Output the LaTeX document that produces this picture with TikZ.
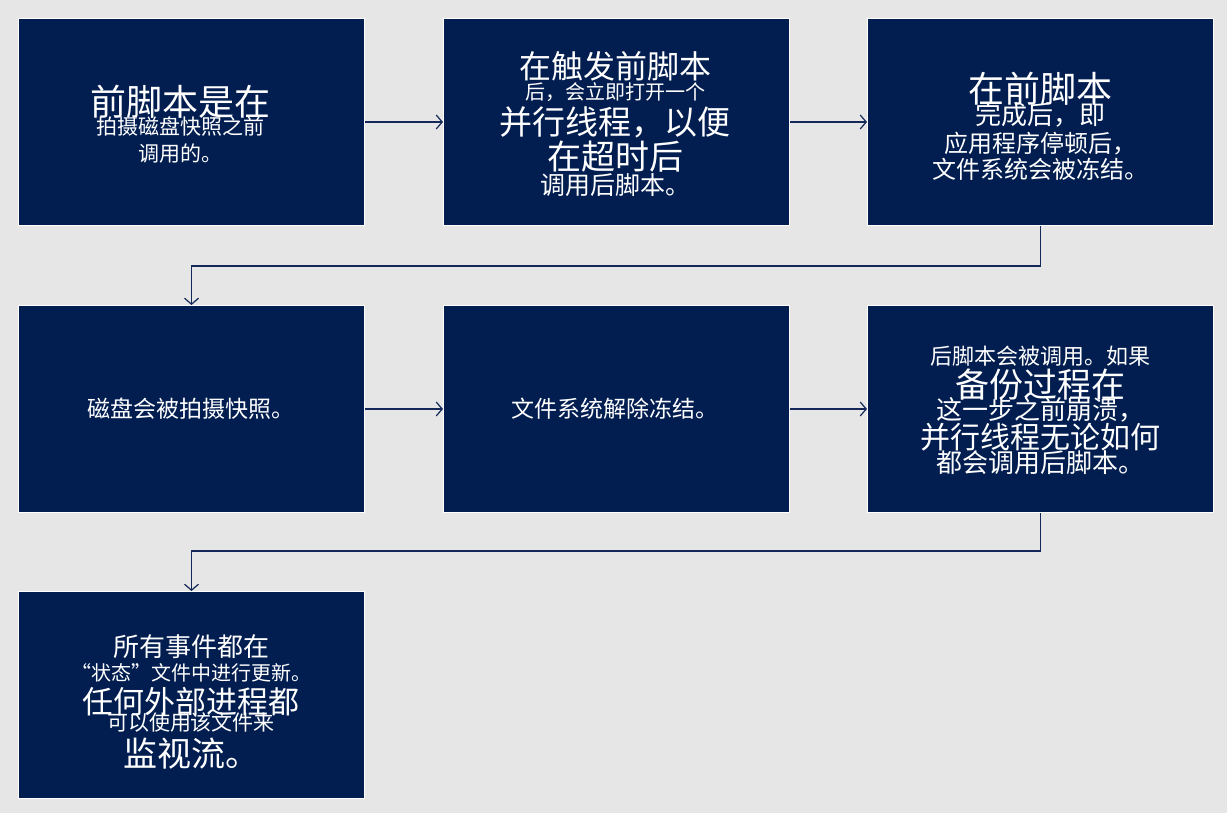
\documentclass[tikz,border=0pt]{standalone}
\usepackage{fontspec}
\usetikzlibrary{arrows.meta}
\newfontfamily\cjk{Noto Sans CJK SC}
\definecolor{bg}{RGB}{230,230,230}
\definecolor{navy}{RGB}{2,30,80}
\definecolor{arr}{RGB}{20,40,90}
\newcommand{\fs}[1]{\fontsize{#1}{#1}\selectfont}
\begin{document}
\begin{tikzpicture}[x=1pt,y=-1pt,
  box/.style={draw=white,line width=1pt,fill=navy,minimum width=346pt,minimum height=207pt,anchor=north west,text=white,align=center,font=\cjk,inner sep=2pt},
  txt/.style={text=white,align=center,font=\cjk},
  conn/.style={draw=arr,line width=1.2pt,-{Straight Barb[length=6pt,width=14pt]}}]
\fill[bg] (0,0) rectangle (1227,813);
\useasboundingbox (0,0) rectangle (1227,813);
\node[box] (b1) at (18,18) {};
\node[box] (b2) at (443,18) {};
\node[box] (b3) at (867,18) {};
\node[box] (b4) at (18,305) {};
\node[box] (b5) at (443,305) {};
\node[box] (b6) at (867,305) {};
\node[box] (b7) at (18,591) {};
\node[txt] at (180,124) {\fs{36}前脚本是在\\[-2pt]\fs{21}拍摄磁盘快照之前\\[6pt]\fs{21}调用的。};
\node[txt] at (615,124) {\fs{32}在触发前脚本\\[0pt]\fs{20}后，会立即打开一个\\[4pt]\fs{33}并行线程，以便\\[2pt]\fs{34}在超时后\\[0pt]\fs{25}调用后脚本。};
\node[txt] at (1040,126) {\fs{36}在前脚本\\[-4pt]\fs{26}完成后，即\\[4pt]\fs{24}应用程序停顿后，\\[2pt]\fs{24}文件系统会被冻结。};
\node[txt] at (191,409) {\fs{23}磁盘会被拍摄快照。};
\node[txt] at (615,409) {\fs{23}文件系统解除冻结。};
\node[txt] at (1040,410) {\fs{22}后脚本会被调用。如果\\[2pt]\fs{34}备份过程在\\[-4pt]\fs{26}这一步之前崩溃，\\[0pt]\fs{30}并行线程无论如何\\[-2pt]\fs{26}都会调用后脚本。};
\node[txt] at (191,702) {\fs{26}所有事件都在\\[4pt]\fs{20}“状态”文件中进行更新。\\[4pt]\fs{31}任何外部进程都\\[-4pt]\fs{21}可以使用该文件来\\[4pt]\fs{34}监视流。};
\draw[conn] (b1.east) -- (b2.west);
\draw[conn] (b2.east) -- (b3.west);
\draw[conn] (b4.east) -- (b5.west);
\draw[conn] (b5.east) -- (b6.west);
\draw[conn] (b3.south) -- ++(0,40) -| (b4.north);
\draw[conn] (b6.south) -- ++(0,38) -| (b7.north);
\end{tikzpicture}
\end{document}
